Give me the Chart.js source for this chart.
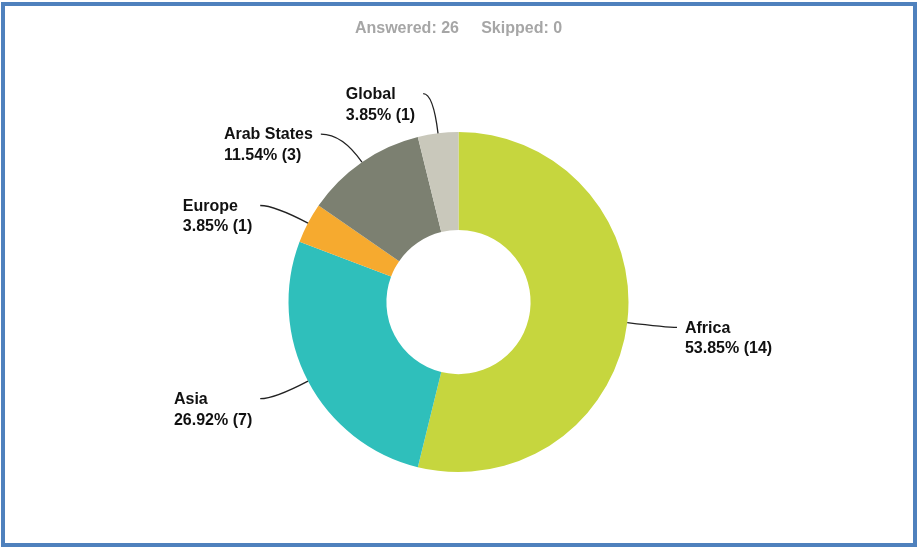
<!DOCTYPE html>
<html>
<head>
<meta charset="utf-8">
<script src="https://cdn.jsdelivr.net/npm/chart.js@4"></script>
<style>
  html, body { margin:0; padding:0; background:#fff; }
  #wrap { position:absolute; left:0; top:0; width:917px; height:547px; }
  #frame { position:absolute; left:1px; top:2px; width:916px; height:545px; box-sizing:border-box; border:4px solid #4f81bd; pointer-events:none; }
</style>
</head>
<body>
<div id="wrap"><canvas id="regionChart" width="917" height="547"></canvas></div>
<div id="frame"></div>
<script>
// Survey answers by region
const regions = ['Africa', 'Asia', 'Europe', 'Arab States', 'Global'];
const counts = [14, 7, 1, 3, 1];
const colors = ['#c6d63e', '#2fbfbb', '#f6aa2f', '#7c8071', '#c9c8bb'];
const answered = 26;
const skipped = 0;

// labels with leader lines, drawn from each arc's own geometry
const leaderLabels = {
  id: 'leaderLabels',
  afterDatasetsDraw(chart){
    const ctx = chart.ctx;
    const meta = chart.getDatasetMeta(0);
    const total = counts.reduce((a, b) => a + b, 0);
    ctx.save();
    ctx.font = 'bold 16px "Liberation Sans", Arial, sans-serif';
    ctx.textBaseline = 'middle';
    meta.data.forEach((arc, i) => {
      const p = arc.getProps(['x', 'y', 'startAngle', 'endAngle', 'outerRadius'], true);
      const mid = (p.startAngle + p.endAngle) / 2;
      const cos = Math.cos(mid), sin = Math.sin(mid);
      const x0 = p.x + cos * p.outerRadius, y0 = p.y + sin * p.outerRadius;
      // diagonal labels get pushed out a bit more, like the original
      const diag = Math.pow(Math.abs(2 * sin * cos), 8);
      const r = p.outerRadius + 40 - 10 * diag;
      const cx = p.x + cos * r, cy = p.y + sin * r;
      const right = cos >= 0;
      const hook = 10 + 20 * diag;
      const ex = cx + (right ? hook : -hook), ey = cy;
      ctx.strokeStyle = '#222';
      ctx.lineWidth = 1.3;
      ctx.beginPath();
      ctx.moveTo(x0, y0);
      ctx.quadraticCurveTo(cx, cy, ex, ey);
      ctx.stroke();
      const lines = [regions[i], (counts[i] / total * 100).toFixed(2) + '% (' + counts[i] + ')'];
      const w = Math.max(...lines.map(t => ctx.measureText(t).width));
      const tx = right ? ex + 8 : ex - 8 - w;
      ctx.fillStyle = '#111';
      ctx.textAlign = 'left';
      lines.forEach((t, k) => ctx.fillText(t, tx, ey + 1 + k * 20.5));
    });
    ctx.restore();
  }
};

new Chart(document.getElementById('regionChart'), {
  type: 'doughnut',
  data: {
    labels: regions,
    datasets: [{ data: counts, backgroundColor: colors, borderWidth: 0, hoverOffset: 0 }]
  },
  options: {
    responsive: false,
    animation: false,
    radius: 170,
    cutout: '42.4%',
    layout: { padding: 0 },
    plugins: {
      legend: { display: false },
      tooltip: { enabled: false },
      title: {
        display: true,
        text: 'Answered: ' + answered + '     Skipped: ' + skipped,
        color: '#a6a6a6',
        font: { family: '"Liberation Sans", Arial, sans-serif', size: 16, weight: 'bold' },
        padding: { top: 19, bottom: 19 }
      }
    }
  },
  plugins: [leaderLabels]
});
</script>
</body>
</html>
